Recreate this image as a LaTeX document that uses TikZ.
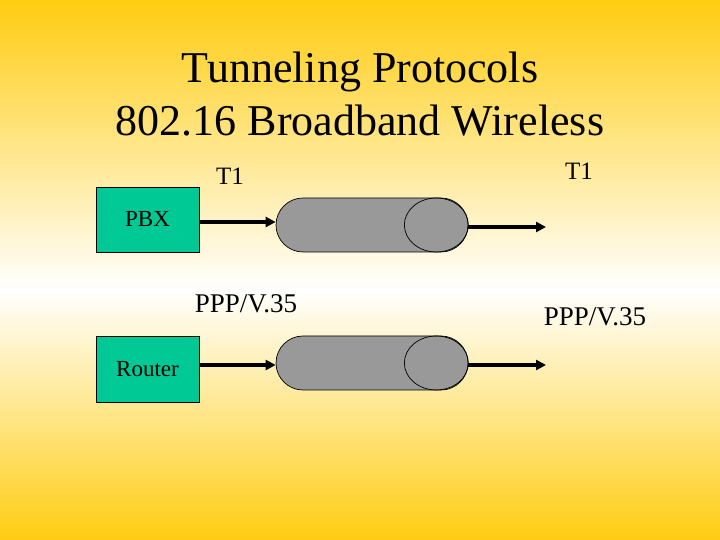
\documentclass[tikz,border=0pt]{standalone}
\usepackage{fontspec}
\setmainfont{Liberation Serif}
\usetikzlibrary{arrows.meta, positioning, shapes.misc}
\definecolor{slidegold}{HTML}{FFCC11}
\definecolor{boxteal}{HTML}{00C996}
\definecolor{tubegray}{HTML}{999999}

\begin{document}
\begin{tikzpicture}[
    x=1pt, y=1pt,
    device/.style={draw, fill=boxteal, minimum width=103pt, minimum height=65pt,
                   inner sep=0pt, font=\fontsize{23}{27}\selectfont, line width=0.7pt},
    tunnel/.style={draw, fill=tubegray, rounded rectangle, minimum width=192pt,
                   minimum height=54pt, inner sep=0pt, line width=0.7pt},
    arr/.style={-{Triangle[length=10pt, width=10pt]}, line width=4.5pt},
    lblsmall/.style={anchor=base, font=\fontsize{25}{30}\selectfont},
    lblbig/.style={anchor=base, font=\fontsize{27}{32}\selectfont},
]

% Background
\fill[top color=slidegold, bottom color=white] (0,250) rectangle (720,540);
\fill[top color=white, bottom color=slidegold] (0,0) rectangle (720,250);
\useasboundingbox (0,0) rectangle (720,540);

% Title
\node[anchor=base, font=\fontsize{44}{53}\selectfont] (title1) at (360,457) {Tunneling Protocols};
\node[anchor=base, font=\fontsize{44}{53}\selectfont] (title2) at (360,404) {802.16 Broadband Wireless};

% Row 1: PBX over T1
\node[device] (pbx) at (147.5,320.5) {PBX};
\node[tunnel] (tun1) at (372,315) {};
\draw[line width=0.7pt] ([xshift=-32pt]tun1.east) ellipse [x radius=32pt, y radius=27pt];
\coordinate (out1) at (546,313);
\node[lblsmall] (t1in) at (230,355) {T1};
\node[lblsmall] (t1out) at (579,360) {T1};

% Row 2: Router over PPP
\node[device, minimum height=66pt] (router) at (147.5,171) {Router};
\node[tunnel] (tun2) at (372,177) {};
\draw[line width=0.7pt] ([xshift=-32pt]tun2.east) ellipse [x radius=32pt, y radius=27pt];
\coordinate (out2) at (546,175);
\node[lblbig] (pppin) at (246,227) {PPP/V.35};
\node[lblbig] (pppout) at (595,214) {PPP/V.35};

% Arrows
\draw[arr] ([yshift=-2.5pt]pbx.east) -- ([yshift=-2.5pt]pbx.east -| tun1.west);
\draw[arr] (tun1.east |- out1) -- (out1);
\draw[arr] ([yshift=4pt]router.east) -- ([yshift=4pt]router.east -| tun2.west);
\draw[arr] (tun2.east |- out2) -- (out2);

\end{tikzpicture}
\end{document}
